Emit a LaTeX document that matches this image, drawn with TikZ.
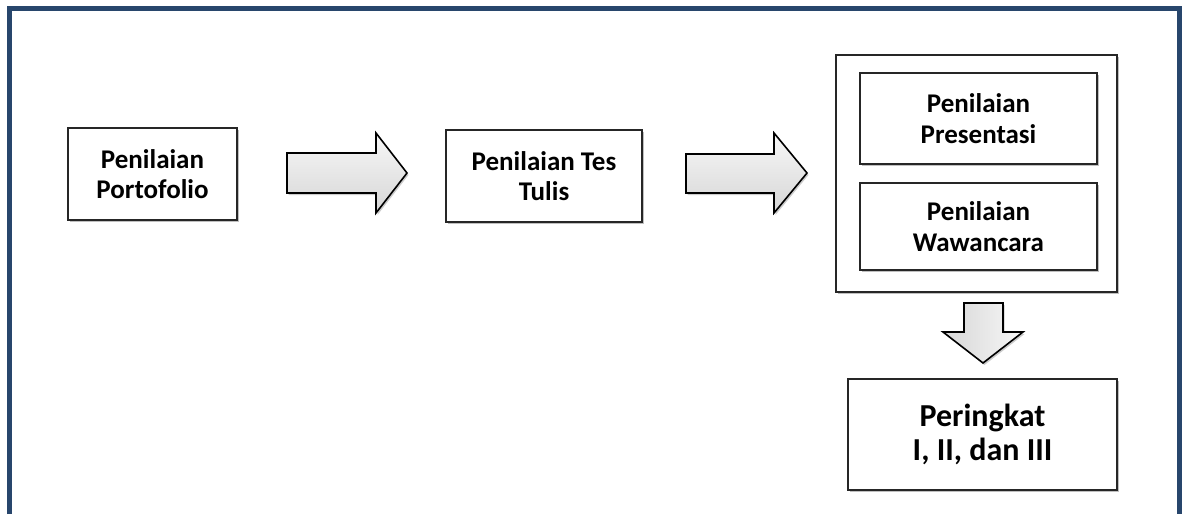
\documentclass[tikz,border=0pt]{standalone}
\usepackage{fontspec}
\setmainfont{Carlito}
\usetikzlibrary{shadows}
\definecolor{framec}{RGB}{40,70,108}
\tikzset{
  box/.style={draw=black!85, line width=1.6pt, fill=white, align=center, inner sep=0pt,
    drop shadow={shadow xshift=1.5pt, shadow yshift=-1.5pt, fill=black, opacity=0.25},
    font=\fontsize{27}{30.5}\selectfont\bfseries},
  bigbox/.style={box, font=\fontsize{32}{33.5}\selectfont\bfseries},
  harrow/.style={draw=black, line width=1.6pt, top color=gray!6, bottom color=gray!32,
    drop shadow={shadow xshift=1.5pt, shadow yshift=-2pt, fill=black, opacity=0.2}},
  varrow/.style={draw=black, line width=1.6pt, left color=gray!32, right color=gray!6,
    drop shadow={shadow xshift=1.5pt, shadow yshift=-2pt, fill=black, opacity=0.2}}
}
\begin{document}
\begin{tikzpicture}[x=1pt,y=-1pt]
\useasboundingbox (0,0) rectangle (1182,514);
% frame
\draw[framec, line width=5.5pt] (9.5,514) -- (9.5,8.7) -- (1179.5,8.7) -- (1179.5,514);
% boxes
\node[box, minimum width=169pt, minimum height=92pt] (port) at (152.5,174) {Penilaian\\Portofolio};
\node[box, minimum width=196pt, minimum height=92pt] (tes) at (544,176) {Penilaian Tes\\Tulis};
\node[box, minimum width=281pt, minimum height=237pt] (group) at (976.5,173.5) {};
\node[box, minimum width=237pt, minimum height=91pt] (pres) at (978.5,118.5) {Penilaian\\Presentasi};
\node[box, minimum width=237pt, minimum height=87pt] (waw) at (978.5,226.5) {Penilaian\\Wawancara};
\node[bigbox, minimum width=269pt, minimum height=111pt] (rank) at (982.5,434.5) {Peringkat\\I, II, dan III};
% block arrows
\path[harrow] (287,153) -- (376,153) -- (376,133) -- (407,173) -- (376,213) -- (376,193) -- (287,193) -- cycle;
\path[harrow] (686,154) -- (774,154) -- (774,133) -- (807,173) -- (774,213) -- (774,193) -- (686,193) -- cycle;
\path[varrow] (964,303) -- (1003,303) -- (1003,332) -- (1023,332) -- (983,363) -- (943,332) -- (964,332) -- cycle;
\end{tikzpicture}
\end{document}
